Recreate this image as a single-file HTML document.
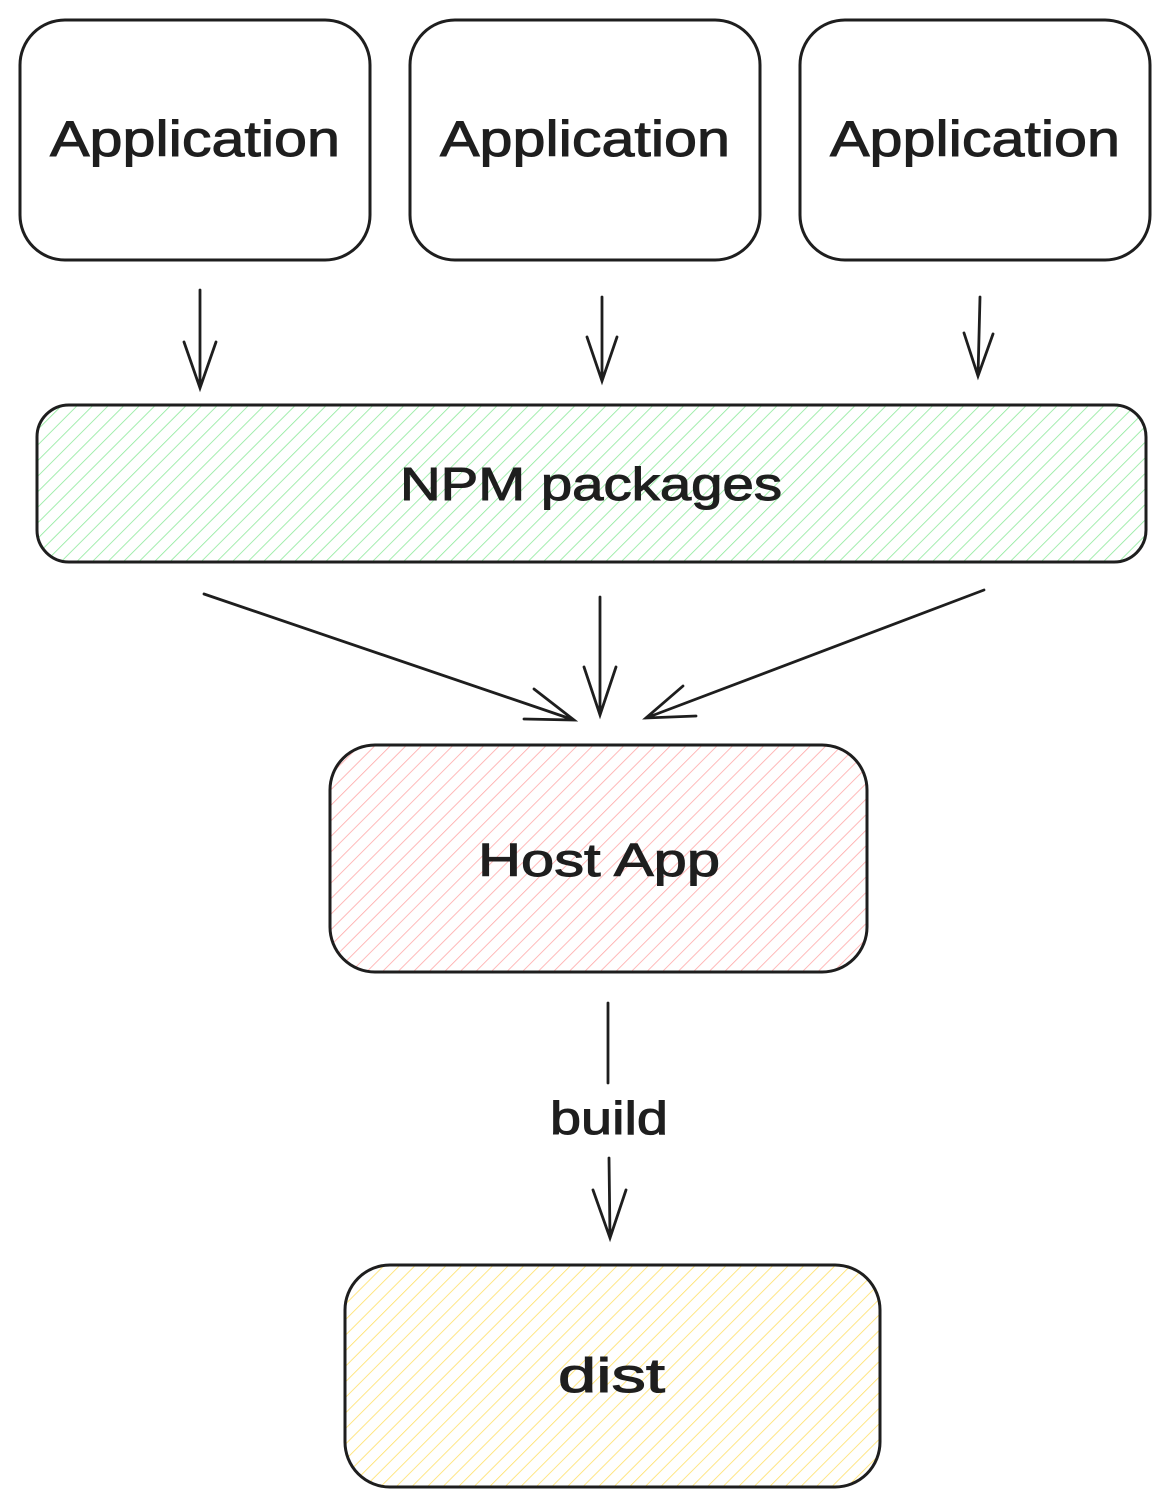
<!DOCTYPE html>
<html><head><meta charset="utf-8"><style>
html,body{margin:0;padding:0;background:#fff;}
svg{display:block}
text{font-family:"Liberation Sans",sans-serif;fill:#1e1e1e;}
</style></head><body>
<svg width="1171" height="1507" viewBox="0 0 1171 1507" xmlns="http://www.w3.org/2000/svg">
<defs>
<pattern id="hg" width="11" height="11" patternUnits="userSpaceOnUse" patternTransform="rotate(45)"><line x1="0" y1="0" x2="0" y2="11" stroke="#8ce99a" stroke-width="1.6"/></pattern>
<pattern id="hr" width="11" height="11" patternUnits="userSpaceOnUse" patternTransform="rotate(45)"><line x1="0" y1="0" x2="0" y2="11" stroke="#ffa8a8" stroke-width="1.6"/></pattern>
<pattern id="hy" width="11" height="11" patternUnits="userSpaceOnUse" patternTransform="rotate(45)"><line x1="0" y1="0" x2="0" y2="11" stroke="#ffe066" stroke-width="1.6"/></pattern>
</defs>
<g fill="none" stroke="#1e1e1e" stroke-width="3">
<rect x="20" y="20" width="350" height="240" rx="45"/>
<rect x="410" y="20" width="350" height="240" rx="45"/>
<rect x="800" y="20" width="350" height="240" rx="45"/>
<rect x="37" y="405" width="1109" height="157" rx="32" fill="url(#hg)"/>
<rect x="330" y="745" width="537" height="227" rx="45" fill="url(#hr)"/>
<rect x="345" y="1265" width="535" height="222" rx="45" fill="url(#hy)"/>
</g>
<g fill="none" stroke="#1e1e1e" stroke-width="2.8" stroke-linecap="round">
<path d="M200 290 L200 388 M184 342 L200 388 L216 342"/>
<path d="M602 297 L602 381 M587 337 L602 381 L617 337"/>
<path d="M980 297 L978 376 M964 333 L978 376 L993 334"/>
<path d="M204 594 L574 720 M534 689 L574 720 L524 719"/>
<path d="M600 597 L600 715 M584 667 L600 715 L616 667"/>
<path d="M984 590 L646 718 M683 686 L646 718 L696 716"/>
<path d="M608 1003 L608 1083"/>
<path d="M609 1158 L610 1238 M593 1190 L610 1238 L626 1190"/>
</g>
<g stroke="#1e1e1e" stroke-width="1">
<text x="50" y="156" font-size="50" textLength="290" lengthAdjust="spacingAndGlyphs">Application</text>
<text x="440" y="156" font-size="50" textLength="290" lengthAdjust="spacingAndGlyphs">Application</text>
<text x="830" y="156" font-size="50" textLength="290" lengthAdjust="spacingAndGlyphs">Application</text>
<text x="400" y="500" font-size="46" textLength="382" lengthAdjust="spacingAndGlyphs">NPM packages</text>
<text x="478" y="876" font-size="46" textLength="242" lengthAdjust="spacingAndGlyphs">Host App</text>
<text x="550" y="1134" font-size="46" textLength="118" lengthAdjust="spacingAndGlyphs">build</text>
<text x="558" y="1392" font-size="48" textLength="107" lengthAdjust="spacingAndGlyphs">dist</text>
</g>
</svg>
</body></html>
